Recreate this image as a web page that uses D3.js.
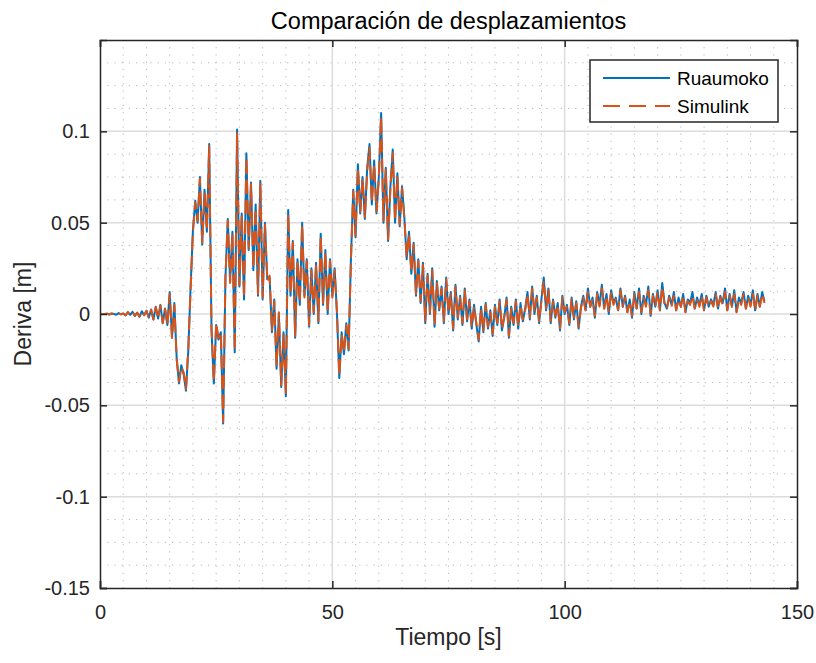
<!DOCTYPE html>
<html>
<head>
<meta charset="utf-8">
<script src="https://cdn.jsdelivr.net/npm/d3@7.9.0/dist/d3.min.js"></script>
<style>
  body { margin: 0; background: #fff; }
  text { font-family: "Liberation Sans", Arial, sans-serif; }
</style>
</head>
<body>
<svg id="chart" width="816" height="663"></svg>
<script>
// sample spacing in seconds, values in mm (converted to m for plotting)
const dt = 0.5;

const ruaumokoMm = [
  0, 0, 0, 0.2, -0.3, 0.3, 0, -0.4, 0.5, -0.2, 0.3,
  -0.8, 1, -0.5, 1.2, -1, 0.8, -1.5, 1.5, -0.6, 1.8,
  -2, 2.5, -3, 4, -2.5, 5, -5, 3,
  -6, 12, -13, 6,
  -24, -38, -28, -33, -42,
  -20, 15,
  46, 62, 50, 75,
  38, 68, 45, 93,
  -9, -38,
  -6, -14, -10, -60,
  20, 52,
  18, 45, -21, 101, 15, 55, 8, 88, 35, 72, 24, 60, 10, 73, 8, 50, 19, 20, -10, 8, -30, 0, -40, -10, -45, 57,
  10, 40, -13, 30, 5, 50,
  10, 30, -7, 25, 0, 28, -5,
  44, 5, 35, 0, 30, 10, 25, 0,
  -35, -10, -22, -5, -20, 30, 68,
  42, 82, 55, 75, 52, 80, 93, 60, 84, 55, 75, 110, 50, 80, 40, 70, 90, 50, 77, 48, 70, 53, 30, 45, 22, 39, 10, 30, 6, 28, -5, 22, 0, 25, -7, 18, 2,
  15, -5, 20, 0, 12, -9, 16, -3, 10, -6, 14, -4, 8,
  -8, 5, -6, -15, 4, -10, 6, -8, 2, -12, 5, -6, 8, -9,
  -2, 9, -13, 4, -6, 8, -8, 6, -4, 3,
  12, -3, 15, 0, 10, -5, 8, 20, 2, 14,
  -5, 8, -2, 6, -9, 10, 0, 5, -6, 9, -3, 7, -8, 4,
  10, 2, 14, 4, 9, -2, 12, 5, 16, 3, 11, 0, 13, 6, 9, 2, 14, 4, 10, 1,
  8, -2, 12, 3, 14, 0, 10, 5, 15, -1, 11, 4, 13, 2, 17, 6,
  3, 10, 5, 12, 2, 9, 4, 11, 1, 8, 6, 12, 3, 9, 5, 11, 2, 10, 4, 8,
  5, 12, 3, 10, 6, 14, 2, 11, 4, 13, 1, 9, 6, 12, 3, 10, 5, 13, 2, 11, 4, 12, 7
];

const simulinkMm = [
  0, 0, 0, 0.2, -0.3, 0.3, 0, -0.4, 0.4, -0.2, 0.3,
  -0.7, 1, -0.6, 1.1, -1, 0.7, -1.4, 1.4, -0.7, 1.7,
  -2, 2.3, -3, 3.8, -2.6, 4.6, -5, 2.8,
  -6, 11, -13, 5,
  -25, -37, -29, -32, -41,
  -19, 14,
  45, 61, 51, 74,
  39, 66, 46, 92,
  -8, -37,
  -5, -13, -10, -59,
  21, 51,
  17, 44, -20, 99, 16, 54, 9, 86, 36, 71, 25, 58, 11, 72, 9, 49, 18, 21, -9, 7, -29, 1, -39, -11, -44, 55,
  11, 39, -12, 29, 6, 49,
  9, 29, -6, 24, 1, 27, -4,
  43, 6, 34, 1, 29, 9, 24, 1,
  -34, -11, -21, -6, -19, 29, 67,
  43, 80, 56, 74, 53, 78, 91, 61, 82, 56, 74, 108, 51, 79, 41, 69, 88, 51, 75, 49, 69, 52, 31, 44, 23, 38, 11, 29, 7, 27, -4, 21, 1, 24, -6, 17, 3,
  14, -4, 19, 1, 11, -8, 15, -2, 9, -5, 13, -3, 7,
  -7, 4, -5, -14, 3, -9, 5, -7, 1, -11, 4, -5, 7, -8,
  -1, 8, -12, 3, -5, 7, -7, 5, -3, 2,
  11, -2, 14, 1, 9, -4, 7, 18, 3, 13,
  -4, 7, -1, 5, -8, 9, 1, 4, -5, 8, -2, 6, -7, 3,
  9, 2, 12, 4, 8, -1, 11, 4, 14, 3, 10, 1, 12, 5, 8, 2, 13, 4, 9, 1,
  7, -1, 11, 3, 12, 1, 9, 4, 13, 0, 10, 4, 12, 2, 15, 5,
  3, 9, 4, 10, 2, 8, 4, 10, 1, 7, 5, 10, 3, 8, 4, 10, 2, 9, 4, 7,
  4, 11, 3, 9, 5, 12, 2, 10, 4, 11, 1, 8, 5, 11, 3, 9, 4, 11, 2, 10, 4, 11, 6
];

const xTicks = [0, 50, 100, 150];
const yTicks = [-0.15, -0.1, -0.05, 0, 0.05, 0.1];
const seriesNames = ['Ruaumoko', 'Simulink'];
const seriesColors = ['#0072BD', '#D95319'];

const width = 816, height = 663;
const margin = { top: 40, right: 19, bottom: 75, left: 100 };
const plot = {
  left: margin.left,
  right: width - margin.right,
  top: margin.top,
  bottom: height - margin.bottom
};
const ink = '#262626';

const svg = d3.select('#chart');

const xScale = d3.scaleLinear().domain([0, 150]).range([plot.left, plot.right]);
const yScale = d3.scaleLinear().domain([-0.15, 0.15]).range([plot.bottom, plot.top]);

const toPoints = arr => arr.map((v, i) => ({ t: i * dt, v: v / 1000 }));
const series = [toPoints(ruaumokoMm), toPoints(simulinkMm)];

// minor grid (dotted)
const xMinor = d3.range(0, 150.01, 5).filter(d => d % 50 !== 0);
const yMinor = d3.range(-0.15, 0.1501, 0.0125).filter(d => Math.abs(Math.round(d / 0.05) * 0.05 - d) > 1e-6);

svg.append('g')
  .selectAll('line')
  .data(xMinor)
  .join('line')
  .attr('x1', d => xScale(d)).attr('x2', d => xScale(d))
  .attr('y1', plot.top).attr('y2', plot.bottom)
  .attr('stroke', '#b8b8b8')
  .attr('stroke-dasharray', '1.2,6');

svg.append('g')
  .selectAll('line')
  .data(yMinor)
  .join('line')
  .attr('y1', d => yScale(d)).attr('y2', d => yScale(d))
  .attr('x1', plot.left).attr('x2', plot.right)
  .attr('stroke', '#b8b8b8')
  .attr('stroke-dasharray', '1.2,6');

// major grid
svg.append('g')
  .selectAll('line')
  .data(xTicks.slice(1, -1))
  .join('line')
  .attr('x1', d => xScale(d)).attr('x2', d => xScale(d))
  .attr('y1', plot.top).attr('y2', plot.bottom)
  .attr('stroke', '#dcdcdc')
  .attr('stroke-width', 1.5);

svg.append('g')
  .selectAll('line')
  .data(yTicks.slice(1))
  .join('line')
  .attr('y1', d => yScale(d)).attr('y2', d => yScale(d))
  .attr('x1', plot.left).attr('x2', plot.right)
  .attr('stroke', '#dcdcdc')
  .attr('stroke-width', 1.5);

// data lines
const line = d3.line().x(d => xScale(d.t)).y(d => yScale(d.v));

svg.append('path')
  .datum(series[0])
  .attr('d', line)
  .attr('fill', 'none')
  .attr('stroke', seriesColors[0])
  .attr('stroke-width', 2)
  .attr('stroke-linejoin', 'round');

svg.append('path')
  .datum(series[1])
  .attr('d', line)
  .attr('fill', 'none')
  .attr('stroke', seriesColors[1])
  .attr('stroke-width', 2)
  .attr('stroke-dasharray', '14,6')
  .attr('stroke-linejoin', 'round');

// axes with inward ticks, mirrored on top/right
const tickLen = 7;
const fmt = d => String(d);
const xAxis = d3.axisBottom(xScale).tickValues(xTicks).tickSize(-tickLen).tickPadding(17).tickFormat(fmt);
const yAxis = d3.axisLeft(yScale).tickValues(yTicks).tickSize(-tickLen).tickPadding(10).tickFormat(fmt);

const gx = svg.append('g')
  .attr('transform', `translate(0,${plot.bottom})`)
  .call(xAxis);
const gy = svg.append('g')
  .attr('transform', `translate(${plot.left},0)`)
  .call(yAxis);

svg.append('g')
  .attr('transform', `translate(0,${plot.top})`)
  .call(d3.axisTop(xScale).tickValues(xTicks).tickSize(-tickLen).tickFormat(''));
svg.append('g')
  .attr('transform', `translate(${plot.right},0)`)
  .call(d3.axisRight(yScale).tickValues(yTicks).tickSize(-tickLen).tickFormat(''));

svg.selectAll('.domain').attr('stroke', ink).attr('stroke-width', 1.5);
svg.selectAll('.tick line').attr('stroke', ink).attr('stroke-width', 1.5);
svg.selectAll('.tick text')
  .attr('font-size', 20)
  .attr('font-family', '"Liberation Sans", Arial, sans-serif')
  .attr('fill', ink);

// titles
svg.append('text')
  .attr('x', (plot.left + plot.right) / 2)
  .attr('y', 29)
  .attr('text-anchor', 'middle')
  .attr('font-size', 23.5)
  .attr('fill', '#000')
  .text('Comparación de desplazamientos');

svg.append('text')
  .attr('x', (plot.left + plot.right) / 2)
  .attr('y', 645)
  .attr('text-anchor', 'middle')
  .attr('font-size', 23)
  .attr('fill', ink)
  .text('Tiempo [s]');

svg.append('text')
  .attr('transform', `translate(31,${(plot.top + plot.bottom) / 2}) rotate(-90)`)
  .attr('text-anchor', 'middle')
  .attr('font-size', 23)
  .attr('fill', ink)
  .text('Deriva [m]');

// legend
const legend = svg.append('g').attr('transform', 'translate(590,60)');
legend.append('rect')
  .attr('width', 188).attr('height', 62)
  .attr('fill', '#fff')
  .attr('stroke', ink)
  .attr('stroke-width', 1.5);

seriesNames.forEach((name, i) => {
  const y = 18 + i * 28;
  legend.append('line')
    .attr('x1', 13).attr('x2', 80)
    .attr('y1', y).attr('y2', y)
    .attr('stroke', seriesColors[i])
    .attr('stroke-width', 2)
    .attr('stroke-dasharray', i === 1 ? '17,9' : null);
  legend.append('text')
    .attr('x', 87).attr('y', y + 7)
    .attr('font-size', 19)
    .attr('fill', '#000')
    .text(name);
});
</script>
</body>
</html>
